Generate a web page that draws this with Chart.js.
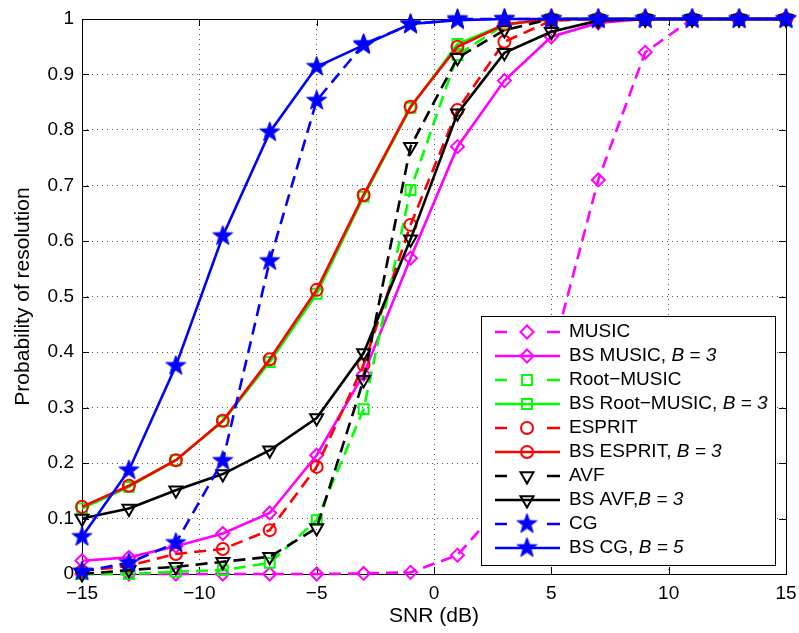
<!DOCTYPE html>
<html>
<head>
<meta charset="utf-8">
<title>Probability of resolution vs SNR</title>
<script src="https://cdn.jsdelivr.net/npm/chart.js@4.4.1/dist/chart.umd.min.js"></script>
<style>
  html, body { margin: 0; padding: 0; background: #ffffff; }
  #wrap { width: 799px; height: 633px; }
</style>
</head>
<body>
<div id="wrap"><canvas id="c" width="799" height="633"></canvas></div>
<script>
// ---- data ----
const snr = [-15, -13, -11, -9, -7, -5, -3, -1, 1, 3, 5, 7, 9, 11, 13, 15];

const music       = [0, 0, 0, 0, 0, 0, 0.001, 0.003, 0.034, 0.13, 0.39, 0.71, 0.94, 1, 1, 1];
const bsMusic     = [0.024, 0.03, 0.05, 0.073, 0.11, 0.214, 0.36, 0.569, 0.77, 0.889, 0.968, 0.993, 1, 1, 1, 1];
const rootMusic   = [0, 0, 0.004, 0.007, 0.02, 0.097, 0.297, 0.692, 0.935, 0.99, 1, 1, 1, 1, 1, 1];
const bsRootMusic = [0.118, 0.157, 0.205, 0.275, 0.382, 0.505, 0.68, 0.84, 0.955, 0.99, 1, 1, 1, 1, 1, 1];
const esprit      = [0.005, 0.015, 0.036, 0.045, 0.079, 0.193, 0.377, 0.629, 0.836, 0.959, 0.997, 1, 1, 1, 1, 1];
const bsEsprit    = [0.121, 0.159, 0.205, 0.276, 0.387, 0.512, 0.683, 0.842, 0.95, 0.99, 1, 1, 1, 1, 1, 1];
const avf         = [0, 0.007, 0.013, 0.022, 0.031, 0.083, 0.35, 0.77, 0.93, 0.98, 1, 1, 1, 1, 1, 1];
const bsAvf       = [0.10, 0.118, 0.151, 0.18, 0.223, 0.281, 0.398, 0.603, 0.83, 0.939, 0.977, 0.997, 1, 1, 1, 1];
const cg          = [0.005, 0.02, 0.056, 0.204, 0.564, 0.853, 0.955, 0.99, 1, 1, 1, 1, 1, 1, 1, 1];
const bsCg        = [0.067, 0.187, 0.375, 0.609, 0.796, 0.914, 0.953, 0.991, 0.998, 1, 1, 1, 1, 1, 1, 1];

const xTicks = [-15, -10, -5, 0, 5, 10, 15];
const xTickLabels = ['\u221215', '\u221210', '\u22125', '0', '5', '10', '15'];
const yTicks = [0, 0.1, 0.2, 0.3, 0.4, 0.5, 0.6, 0.7, 0.8, 0.9, 1];
const yTickLabels = ['0', '0.1', '0.2', '0.3', '0.4', '0.5', '0.6', '0.7', '0.8', '0.9', '1'];

// legend text: plain name, then the italic parameter part
const seriesNames  = ['MUSIC', 'BS MUSIC, ', 'Root\u2212MUSIC', 'BS Root\u2212MUSIC, ', 'ESPRIT', 'BS ESPRIT, ', 'AVF', 'BS AVF,', 'CG', 'BS CG, '];
const seriesParams = ['', 'B = 3', '', 'B = 3', '', 'B = 3', '', 'B = 3', '', 'B = 5'];

// ---- styling ----
const FONT = "'Liberation Sans', Arial, Helvetica, sans-serif";
const MAGENTA = '#ff00ff', GREEN = '#00ff00', RED = '#ff0000', BLACK = '#000000', BLUE = '#0000ff';
const DASH = [12, 7];

function makeStar(color, R) {
  const size = Math.ceil(2 * R + 4);
  const cv = document.createElement('canvas');
  cv.width = size; cv.height = size;
  const g = cv.getContext('2d');
  const c = size / 2, r = R * 0.4;
  g.beginPath();
  for (let i = 0; i < 10; i++) {
    const rad = (i % 2) ? r : R;
    const a = -Math.PI / 2 + i * Math.PI / 5;
    g.lineTo(c + rad * Math.cos(a), c + rad * Math.sin(a));
  }
  g.closePath();
  g.fillStyle = color; g.fill();
  g.strokeStyle = color; g.lineWidth = 1; g.stroke();
  return cv;
}
const starImg = makeStar(BLUE, 10.5);

function series(values, color, dashed, style, radius, rotation) {
  return {
    data: snr.map((x, i) => ({ x: x, y: values[i] })),
    borderColor: color,
    borderWidth: 2.6,
    borderDash: dashed ? DASH : [],
    pointStyle: style,
    pointRadius: radius,
    pointHoverRadius: radius,
    pointRotation: rotation || 0,
    pointBorderColor: color,
    pointBackgroundColor: 'rgba(0,0,0,0)',
    pointBorderWidth: 2,
    fill: false,
    tension: 0,
    clip: false,
    _dashed: dashed
  };
}

const datasets = [
  series(music, MAGENTA, true, 'rectRot', 6.5),
  series(bsMusic, MAGENTA, false, 'rectRot', 6.5),
  series(rootMusic, GREEN, true, 'rect', 7),
  series(bsRootMusic, GREEN, false, 'rect', 7),
  series(esprit, RED, true, 'circle', 6),
  series(bsEsprit, RED, false, 'circle', 6),
  series(avf, BLACK, true, 'triangle', 7.5, 180),
  series(bsAvf, BLACK, false, 'triangle', 7.5, 180),
  series(cg, BLUE, true, starImg, 10),
  series(bsCg, BLUE, false, starImg, 10)
];
// later series are painted on top
datasets.forEach((d, i) => { d.order = datasets.length - i; });

// marker drawing for the legend samples
function drawMarker(ctx, ds, x, y) {
  const st = ds.pointStyle, r = ds.pointRadius;
  if (st instanceof HTMLCanvasElement) {
    ctx.drawImage(st, x - st.width / 2, y - st.height / 2);
    return;
  }
  ctx.save();
  ctx.strokeStyle = ds.pointBorderColor;
  ctx.lineWidth = ds.pointBorderWidth;
  ctx.setLineDash([]);
  ctx.beginPath();
  if (st === 'circle') {
    ctx.arc(x, y, r, 0, Math.PI * 2);
  } else if (st === 'rect') {
    const s = r * Math.SQRT1_2;
    ctx.rect(x - s, y - s, 2 * s, 2 * s);
  } else if (st === 'rectRot') {
    ctx.moveTo(x, y - r); ctx.lineTo(x + r, y); ctx.lineTo(x, y + r); ctx.lineTo(x - r, y);
    ctx.closePath();
  } else if (st === 'triangle') {
    let a = (ds.pointRotation || 0) * Math.PI / 180;
    for (let k = 0; k < 3; k++) {
      const px = x + Math.sin(a) * r, py = y - Math.cos(a) * r;
      if (k === 0) ctx.moveTo(px, py); else ctx.lineTo(px, py);
      a += 2 * Math.PI / 3;
    }
    ctx.closePath();
  }
  ctx.stroke();
  ctx.restore();
}

// axes box with inward ticks on all four sides
const framePlugin = {
  id: 'frame',
  beforeDatasetsDraw(chart) {
    const { ctx, chartArea: a, scales } = chart;
    ctx.save();
    ctx.strokeStyle = '#000';
    ctx.lineWidth = 1;
    ctx.setLineDash([]);
    ctx.strokeRect(Math.round(a.left) + 0.5, Math.round(a.top) + 0.5,
                   Math.round(a.right - a.left), Math.round(a.bottom - a.top));
    const T = 7;
    ctx.beginPath();
    xTicks.forEach(v => {
      const px = Math.round(scales.x.getPixelForValue(v)) + 0.5;
      ctx.moveTo(px, a.bottom); ctx.lineTo(px, a.bottom - T);
      ctx.moveTo(px, a.top); ctx.lineTo(px, a.top + T);
    });
    yTicks.forEach(v => {
      const py = Math.round(scales.y.getPixelForValue(v)) + 0.5;
      ctx.moveTo(a.left, py); ctx.lineTo(a.left + T, py);
      ctx.moveTo(a.right, py); ctx.lineTo(a.right - T, py);
    });
    ctx.stroke();
    ctx.restore();
  }
};

// boxed legend inside the lower-right corner of the plot
const legendPlugin = {
  id: 'boxLegend',
  afterDraw(chart) {
    const { ctx, chartArea: a } = chart;
    const sets = chart.data.datasets;
    const fs = 19;
    const fN = fs + 'px ' + FONT, fI = 'italic ' + fs + 'px ' + FONT;
    ctx.save();
    let maxW = 0;
    sets.forEach((ds, i) => {
      ctx.font = fN; let w = ctx.measureText(seriesNames[i]).width;
      ctx.font = fI; w += ctx.measureText(seriesParams[i]).width;
      maxW = Math.max(maxW, w);
    });
    const rowH = 24;
    const W = Math.round(88 + maxW + 7);
    const H = 16 + (sets.length - 1) * rowH + 17;
    const right = Math.round(a.right) - 11, bottom = Math.round(a.bottom) - 9;
    const L = right - W, Tp = bottom - H;
    ctx.fillStyle = '#fff';
    ctx.fillRect(L, Tp, W, H);
    ctx.strokeStyle = '#000'; ctx.lineWidth = 1; ctx.setLineDash([]);
    ctx.strokeRect(L + 0.5, Tp + 0.5, W, H);
    sets.forEach((ds, i) => {
      const y = Tp + 16 + i * rowH;
      ctx.strokeStyle = ds.borderColor;
      ctx.lineWidth = ds.borderWidth;
      ctx.setLineDash([]);
      ctx.beginPath();
      if (ds._dashed) {
        ctx.moveTo(L + 14, y); ctx.lineTo(L + 26, y);
        ctx.moveTo(L + 66, y); ctx.lineTo(L + 79, y);
      } else {
        ctx.moveTo(L + 14, y); ctx.lineTo(L + 79, y);
      }
      ctx.stroke();
      drawMarker(ctx, ds, L + 46, y);
      ctx.fillStyle = '#000';
      ctx.textBaseline = 'middle';
      ctx.textAlign = 'left';
      ctx.font = fN;
      ctx.fillText(seriesNames[i], L + 88, y);
      const nw = ctx.measureText(seriesNames[i]).width;
      ctx.font = fI;
      ctx.fillText(seriesParams[i], L + 88 + nw, y);
    });
    ctx.restore();
  }
};

new Chart(document.getElementById('c'), {
  type: 'line',
  data: { datasets: datasets },
  options: {
    responsive: false,
    devicePixelRatio: 1,
    animation: false,
    events: [],
    layout: { padding: { top: 19, right: 13, left: 0, bottom: 0 } },
    plugins: { legend: { display: false }, tooltip: { enabled: false } },
    scales: {
      x: {
        type: 'linear',
        min: -15, max: 15,
        afterBuildTicks: s => { s.ticks = xTicks.map(v => ({ value: v })); },
        afterFit: s => { s.height = 59; s.paddingLeft = 0; s.paddingRight = 0; },
        ticks: {
          callback: (v, i) => xTickLabels[i],
          font: { family: FONT, size: 19 },
          color: '#000',
          padding: 8,
          maxRotation: 0,
          autoSkip: false
        },
        grid: { color: 'rgba(0,0,0,0.65)', lineWidth: 1, drawTicks: false },
        border: { display: false, dash: [1, 4] },
        title: { display: true, text: 'SNR (dB)', color: '#000',
                 font: { family: FONT, size: 21, lineHeight: 1.2 }, padding: { top: 0, bottom: 4 } }
      },
      y: {
        type: 'linear',
        min: 0, max: 1,
        afterBuildTicks: s => { s.ticks = yTicks.map(v => ({ value: v })); },
        afterFit: s => { s.width = 82; s.paddingTop = 0; s.paddingBottom = 0; },
        ticks: {
          callback: (v, i) => yTickLabels[i],
          font: { family: FONT, size: 19 },
          color: '#000',
          padding: 8,
          autoSkip: false
        },
        grid: { color: 'rgba(0,0,0,0.65)', lineWidth: 1, drawTicks: false },
        border: { display: false, dash: [1, 4] },
        title: { display: true, text: 'Probability of resolution', color: '#000',
                 font: { family: FONT, size: 21, lineHeight: 1.2 }, padding: { top: 11, bottom: 0 } }
      }
    }
  },
  plugins: [framePlugin, legendPlugin]
});
</script>
</body>
</html>
